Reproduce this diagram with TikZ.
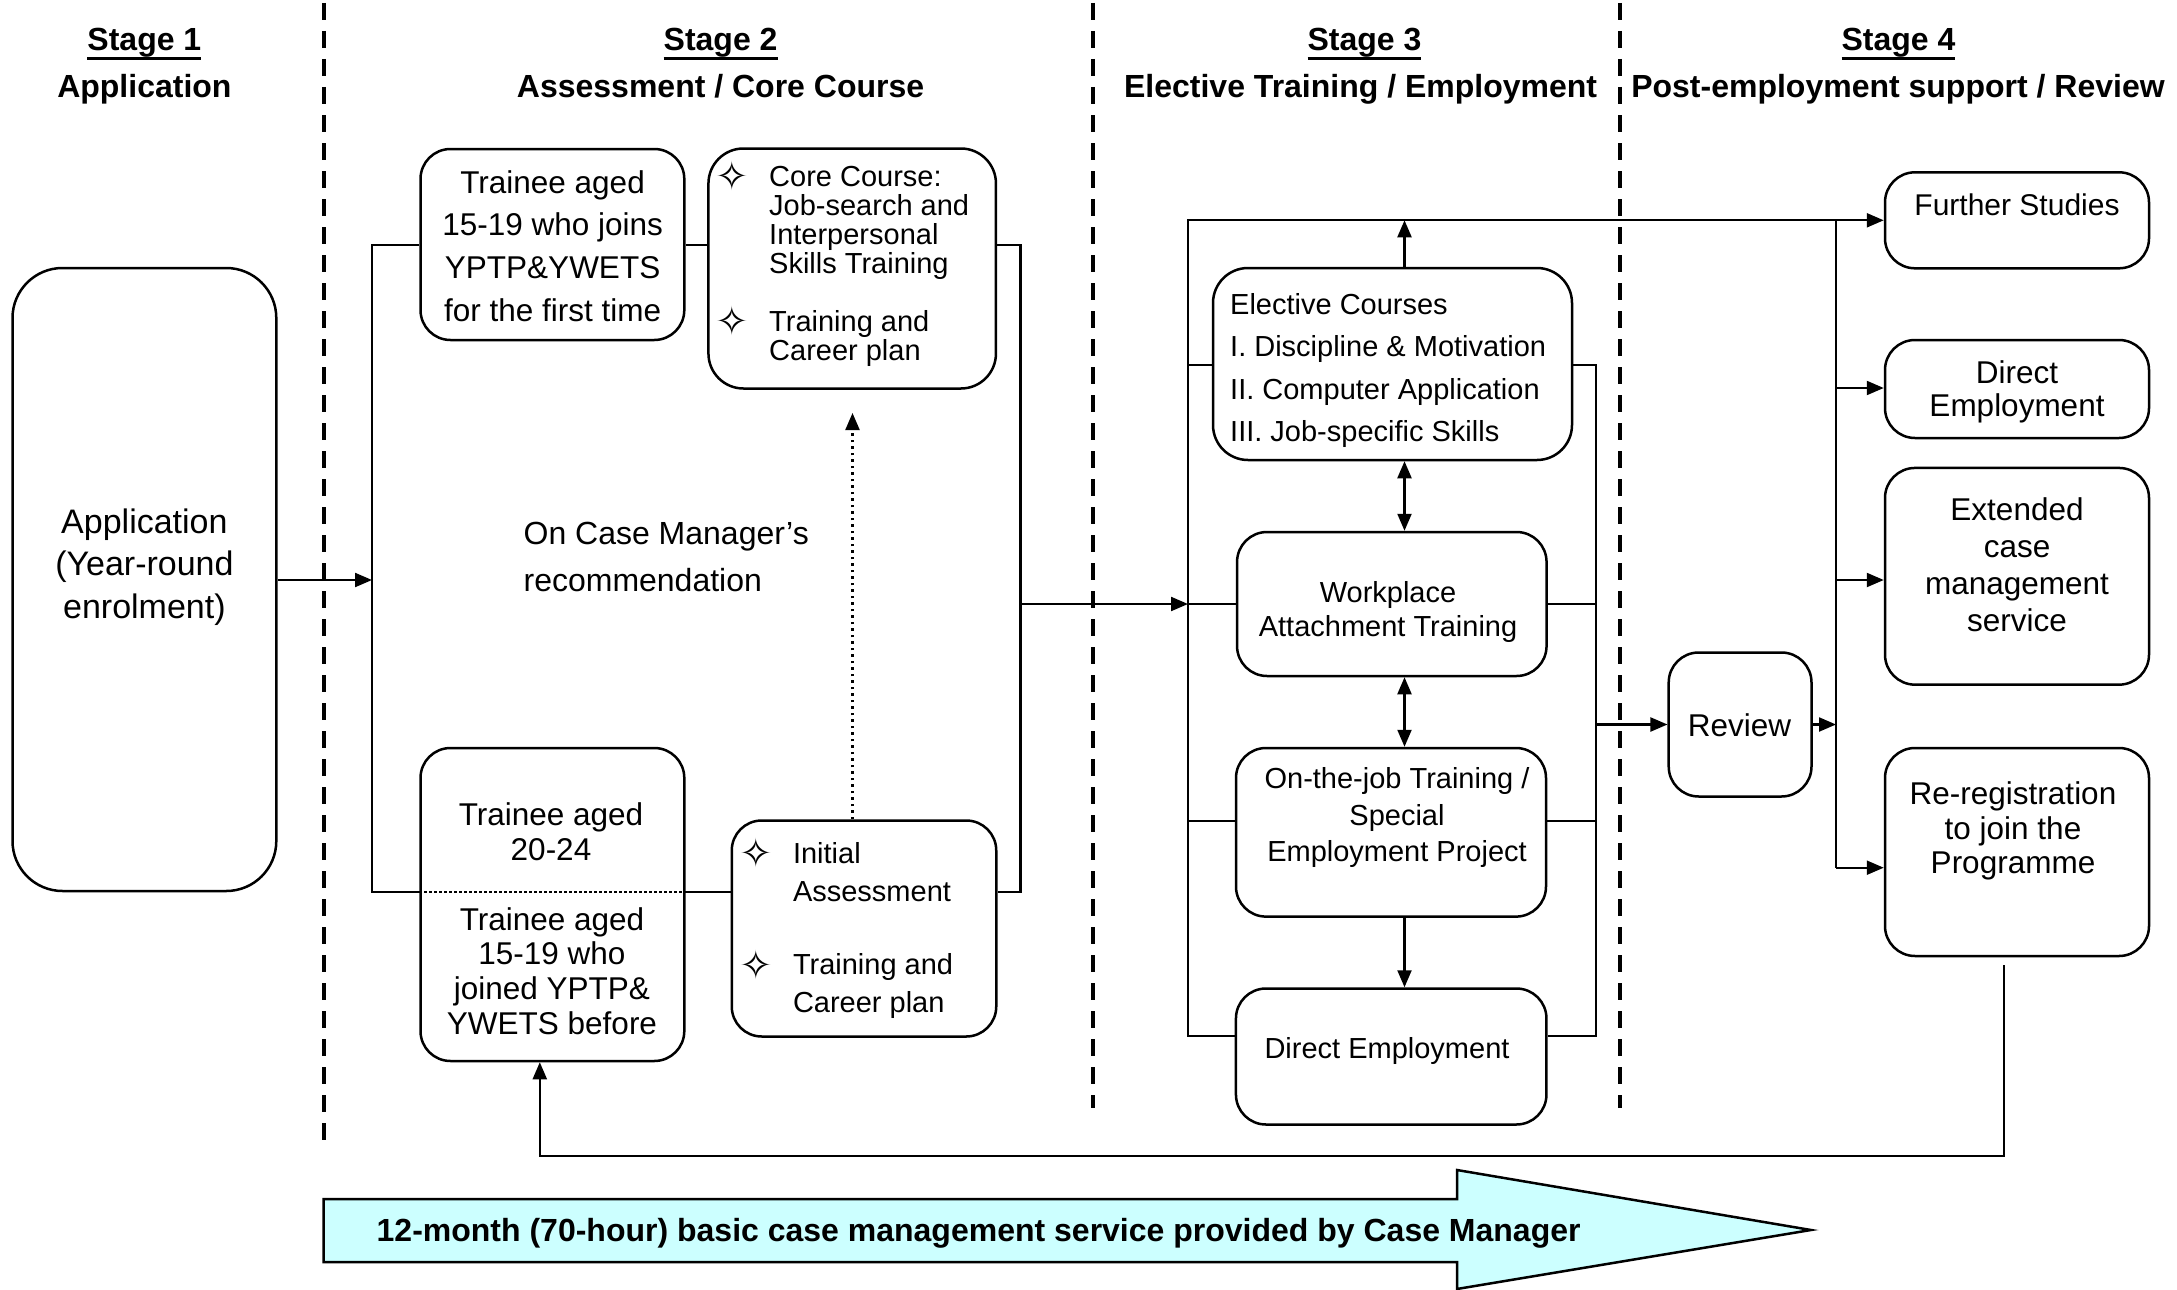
\documentclass[tikz,border=0pt]{standalone}
\usepackage{fontspec}
\setmainfont{Liberation Sans}
\newfontfamily\djv{DejaVu Sans}
\usetikzlibrary{arrows.meta}
\newcommand{\myfs}[2]{\fontsize{#1}{#2}\selectfont}
\newcommand{\bul}{\llap{\smash{\raisebox{-4.5pt}{\djv\fontsize{40}{40}\selectfont ✧}}\hspace{20pt}}}
\newcommand{\myul}[1]{\leavevmode\setbox0=\hbox{#1}\rlap{\rule[-9pt]{\wd0}{3pt}}\box0}
\definecolor{arrowfill}{HTML}{CCFFFF}
\begin{document}
\begin{tikzpicture}[x=1pt,y=-1pt,
  box/.style={draw, line width=2.5pt, rounded corners=30pt, inner sep=0pt},
  conn/.style={line width=2.2pt},
  arr/.style={conn, -{Triangle[length=17pt,width=14pt]}},
  darr/.style={conn, {Triangle[length=17pt,width=14pt]}-{Triangle[length=17pt,width=14pt]}},
  dotarr/.style={line width=2.2pt, dash pattern=on 2.5pt off 4pt, -{Triangle[length=17pt,width=14pt]}},
  stagediv/.style={line width=4pt, dash pattern=on 17pt off 11pt},
  txt/.style={inner sep=0pt, align=center},
  txtl/.style={inner sep=0pt, align=left},
  head/.style={inner sep=0pt, anchor=base, font=\bfseries\myfs{32}{38}}]
\useasboundingbox (0,0) rectangle (2177,1290);

% stage dividers
\coordinate (d1t) at (323.5,3); \coordinate (d1b) at (323.5,1140);
\coordinate (d2t) at (1092.5,3); \coordinate (d2b) at (1092.5,1108);
\coordinate (d3t) at (1620,3); \coordinate (d3b) at (1620,1108);
\draw[stagediv] (d1t) -- (d1b);
\draw[stagediv] (d2t) -- (d2b);
\draw[stagediv] (d3t) -- (d3b);

% headings
\node[head] (h1a) at (144.4,51) {\myul{Stage 1}};
\node[head] (h1b) at (144.4,97) {Application};
\node[head] (h2a) at (720.6,51) {\myul{Stage 2}};
\node[head] (h2b) at (720.6,97) {Assessment / Core Course};
\node[head] (h3a) at (1364.5,51) {\myul{Stage 3}};
\node[head] (h3b) at (1360.6,97) {Elective Training / Employment};
\node[head] (h4a) at (1898.5,51) {\myul{Stage 4}};
\node[head] (h4b) at (1898,97) {Post-employment support / Review};

% boxes
\node[box, rounded corners=50pt, minimum width=263.8pt, minimum height=623pt] (app) at (144.4,579.5) {};
\node[box, minimum width=263.8pt, minimum height=191pt] (b1) at (552.4,244.5) {};
\node[box, rounded corners=35pt, minimum width=287.5pt, minimum height=240pt] (core) at (852.2,268.5) {};
\node[box, minimum width=263.8pt, minimum height=313pt] (b3) at (552.4,904.5) {};
\node[box, minimum width=264.5pt, minimum height=216pt] (ia) at (864,928.5) {};
\node[box, rounded corners=35pt, minimum width=359pt, minimum height=192pt] (elec) at (1392.5,364) {};
\node[box, minimum width=309.5pt, minimum height=144pt] (wat) at (1391.8,604) {};
\node[box, minimum width=310pt, minimum height=168.6pt] (ojt) at (1391,832.3) {};
\node[box, minimum width=310.5pt, minimum height=136pt] (de3) at (1391.2,1056.5) {};
\node[box, minimum width=142.8pt, minimum height=144pt] (rev) at (1740.1,724.5) {};
\node[box, minimum width=264pt, minimum height=96pt] (fs) at (2017,220.3) {};
\node[box, minimum width=264pt, minimum height=98pt] (de4) at (2017,389) {};
\node[box, minimum width=264pt, minimum height=216.7pt] (ext) at (2017,576.3) {};
\node[box, minimum width=264pt, minimum height=208pt] (rr) at (2017,852) {};

% texts
\node[txt, font=\myfs{34}{42.4}] (appT) at (144.4,567) {Application\\(Year-round\\enrolment)};
\node[txt, font=\myfs{31.5}{42.6}] (b1T) at (552.6,246) {Trainee aged\\15-19 who joins\\YPTP\&YWETS\\for the first time};
\node[txtl, font=\myfs{29}{29}, anchor=west] (coreT) at (769,266) {\bul Core Course:\\Job-search and\\Interpersonal\\Skills Training\\[29pt]\bul Training and\\Career plan};
\node[txt, font=\myfs{31.5}{34.7}] (b3T1) at (551,832) {Trainee aged\\20-24};
\node[txt, font=\myfs{31.5}{34.7}] (b3T2) at (552,971) {Trainee aged\\15-19 who\\joined YPTP\&\\YWETS before};
\node[txtl, font=\myfs{29}{38}, anchor=west] (iaT) at (792.8,930.5) {\bul Initial\\Assessment\\[35.5pt]\bul Training and\\Career plan};
\node[txtl, font=\myfs{32}{47}, anchor=west] (lbl) at (523.4,557) {On Case Manager’s\\recommendation};
\node[txtl, font=\myfs{29}{42.6}, anchor=west] (elecT) at (1230,370.5) {Elective Courses\\I. Discipline \& Motivation\\II. Computer Application\\III. Job-specific Skills};
\node[txt, font=\myfs{29}{34.5}] (watT) at (1388,612) {Workplace\\Attachment Training};
\node[txt, font=\myfs{29}{36.7}] (ojtT) at (1397,817.5) {On-the-job Training /\\Special\\Employment Project};
\node[txt, font=\myfs{29}{34}] (de3T) at (1387,1051) {Direct Employment};
\node[txt, font=\myfs{31.5}{34}] (revT) at (1739.6,725) {Review};
\node[txt, font=\myfs{30}{34}] (fsT) at (2017,204.5) {Further Studies};
\node[txt, font=\myfs{31.5}{33.4}] (de4T) at (2017,392) {Direct\\Employment};
\node[txt, font=\myfs{31.5}{37}] (extT) at (2017,564.5) {Extended\\case\\management\\service};
\node[txt, font=\myfs{31.5}{34.7}] (rrT) at (2013,831) {Re-registration\\to join the\\Programme};

% stage 2 connectors
\coordinate (b2tl) at (372,245);
\coordinate (b2bl) at (372,892);
\coordinate (b2tr) at (1020.5,245);
\coordinate (b2br) at (1020.5,892);
\coordinate (b2m) at (1020.5,604);
\draw[arr] (app.east |- 0,580) -- (b2tl |- 0,580);
\draw[conn] (b1.west |- b2tl) -- (b2tl) -- (b2bl) -- (b3.west |- b2bl);
\draw[conn] (b1.east |- b2tl) -- (core.west |- b2tl);
\draw[conn] (core.east |- b2tr) -- (b2tr) -- (b2br) -- (ia.east |- b2br);
\draw[conn] (b3.east |- b2bl) -- (ia.west |- b2bl);
\draw[line width=2.5pt, dash pattern=on 2.5pt off 2.5pt] (b3.west |- b2bl) -- (b3.east |- b2bl);
\coordinate (dotTop) at (852.5,413);
\draw[dotarr] (ia.north -| dotTop) -- (dotTop);

% stage 3 connectors
\coordinate (L3t) at (1188,220.3);
\coordinate (L3b) at (1188,1036);
\coordinate (L3m) at (1188,604);
\coordinate (R3t) at (1596,365);
\coordinate (R3b) at (1596,1036);
\coordinate (col) at (1404.5,0);
\draw[arr] (b2m) -- (L3m);
\draw[arr] (de3.west |- L3b) -- (L3b) -- (L3t) -- (fs.west);
\draw[conn] (L3m) -- (wat.west |- L3m);
\draw[conn] (L3t |- R3t) -- (elec.west |- R3t);
\draw[conn] (L3t |- 0,821) -- (ojt.west |- 0,821);
\draw[conn] (elec.east |- R3t) -- (R3t) -- (R3b) -- (de3.east |- R3b);
\draw[conn] (wat.east |- L3m) -- (R3t |- L3m);
\draw[conn] (ojt.east |- 0,821) -- (R3t |- 0,821);
\draw[arr] (elec.north -| col) -- (L3t -| col);
\draw[darr] (elec.south -| col) -- (wat.north -| col);
\draw[darr] (wat.south -| col) -- (ojt.north -| col);
\draw[arr] (ojt.south -| col) -- (de3.north -| col);

% stage 4 connectors
\coordinate (v4t) at (1836,220.3);
\coordinate (v4b) at (1836,867.7);
\draw[arr] (R3t |- rev.west) -- (rev.west);
\draw[arr] (rev.east) -- (v4t |- rev.east);
\draw[conn] (v4t) -- (v4b);
\draw[arr] (v4t |- 0,388) -- (de4.west |- 0,388);
\draw[arr] (v4t |- 0,580) -- (ext.west |- 0,580);
\draw[arr] (v4b) -- (rr.west |- v4b);

% feedback loop
\coordinate (fbStart) at (2004,965);
\coordinate (fbCorner) at (539.8,1156);
\draw[arr] (fbStart) |- (fbCorner) -- (b3.south -| fbCorner);

% bottom arrow
\draw[line width=2.5pt, fill=arrowfill] (323.5,1199) -- (1457,1199) -- (1457,1170) -- (1811,1230) -- (1457,1289) -- (1457,1262) -- (323.5,1262) -- cycle;
\node[inner sep=0pt, anchor=base west, font=\bfseries\myfs{32}{38}] (cmT) at (376.5,1241) {12-month (70-hour) basic case management service provided by Case Manager};
\end{tikzpicture}
\end{document}
